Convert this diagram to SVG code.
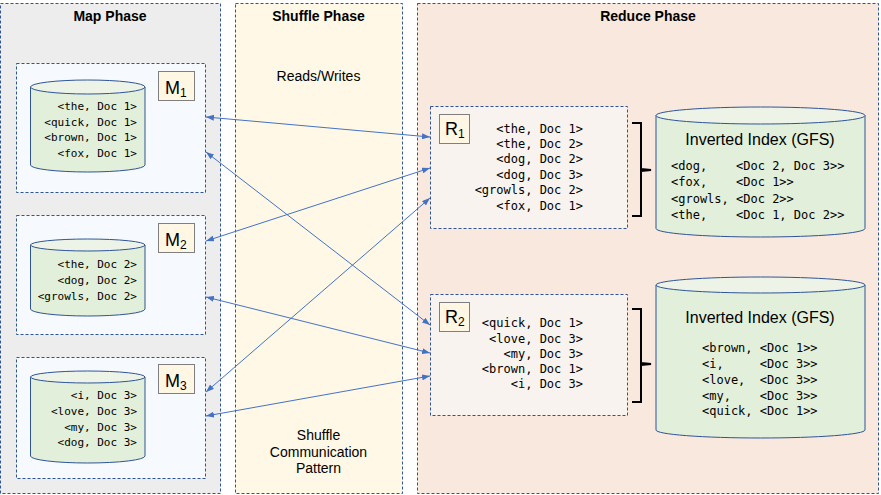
<svg xmlns="http://www.w3.org/2000/svg" width="881" height="495" viewBox="0 0 881 495">
<style>
.panel{stroke:#2F5597;stroke-width:1;stroke-dasharray:3,2}
.box{stroke:#2F5597;stroke-width:1;stroke-dasharray:3,2}
.title{font-family:"Liberation Sans",Arial,sans-serif;font-weight:bold;font-size:14px;text-anchor:middle;fill:#000}
.note{font-family:"Liberation Sans",Arial,sans-serif;font-size:14px;text-anchor:middle;fill:#000}
.lbl{fill:#FFF6E3;stroke:#7F7F7F;stroke-width:1}
.lbltxt{font-family:"Liberation Sans",Arial,sans-serif;font-size:18px;fill:#000}
.sub{font-size:12px}
.cyl{fill:#E2EFDA;stroke:#2F5597;stroke-width:1}
.cyltop{fill:#EDF4E7;stroke:#2F5597;stroke-width:1}
.mono11{font-family:"DejaVu Sans Mono",monospace;font-size:11px;fill:#000;text-anchor:end}
.mono12{font-family:"DejaVu Sans Mono",monospace;font-size:12px;fill:#000}
.r12{text-anchor:end}
.idx{font-family:"Liberation Sans",Arial,sans-serif;font-size:16px;text-anchor:middle;fill:#000}
.conn{stroke:#4472C4;stroke-width:1;fill:none;marker-start:url(#ah);marker-end:url(#ah)}
.brace{stroke:#000;stroke-width:2;fill:none}
</style>
<defs>
<marker id="ah" markerUnits="userSpaceOnUse" markerWidth="8" markerHeight="6" refX="8" refY="3" orient="auto-start-reverse">
<path d="M0,0 L8,3 L0,6 z" fill="#4472C4"/>
</marker>
</defs>

<g id="map-phase">
<rect class="panel" x="0.5" y="3.5" width="220" height="490" fill="#EDEDED"/>
<text class="title" x="110" y="21">Map Phase</text>
</g>
<g id="shuffle-phase">
<rect class="panel" x="235.5" y="3.5" width="167" height="490" fill="#FFF8E6"/>
<text class="title" x="318.5" y="21">Shuffle Phase</text>
<text class="note" x="318.5" y="81">Reads/Writes</text>
<text class="note" x="318.5" y="440">Shuffle</text>
<text class="note" x="318.5" y="457">Communication</text>
<text class="note" x="318.5" y="473">Pattern</text>
</g>
<g id="reduce-phase">
<rect class="panel" x="417.5" y="3.5" width="461" height="490" fill="#F8E8DD"/>
<text class="title" x="648" y="21">Reduce Phase</text>
</g>

<g id="M1">
<rect class="box" x="16.5" y="63.5" width="189" height="129" fill="#F6FAFE"/>
<path class="cyl" d="M30.5,87 L30.5,165 A57.25,7 0 0 0 145,165 L145,87 Z"/>
<ellipse class="cyltop" cx="87.75" cy="87" rx="57.25" ry="7"/>
<text class="mono11" x="137" y="110">&lt;the, Doc 1&gt;</text>
<text class="mono11" x="137" y="126">&lt;quick, Doc 1&gt;</text>
<text class="mono11" x="137" y="141">&lt;brown, Doc 1&gt;</text>
<text class="mono11" x="137" y="157">&lt;fox, Doc 1&gt;</text>
<rect class="lbl" x="158.5" y="71.5" width="36" height="29"/>
<text class="lbltxt" x="165" y="94">M<tspan class="sub" dy="3">1</tspan></text>
</g>

<g id="M2">
<rect class="box" x="16.5" y="215.5" width="189" height="119" fill="#F6FAFE"/>
<path class="cyl" d="M30.5,245 L30.5,309 A57.25,7 0 0 0 145,309 L145,245 Z"/>
<ellipse class="cyltop" cx="87.75" cy="245" rx="57.25" ry="6"/>
<text class="mono11" x="137" y="268">&lt;the, Doc 2&gt;</text>
<text class="mono11" x="137" y="284">&lt;dog, Doc 2&gt;</text>
<text class="mono11" x="137" y="300">&lt;growls, Doc 2&gt;</text>
<rect class="lbl" x="158.5" y="223.5" width="36" height="29"/>
<text class="lbltxt" x="165" y="246">M<tspan class="sub" dy="3">2</tspan></text>
</g>

<g id="M3">
<rect class="box" x="16.5" y="357.5" width="189" height="121" fill="#F6FAFE"/>
<path class="cyl" d="M30.5,377 L30.5,456 A57.25,7 0 0 0 145,456 L145,377 Z"/>
<ellipse class="cyltop" cx="87.75" cy="377" rx="57.25" ry="6"/>
<text class="mono11" x="137" y="399">&lt;i, Doc 3&gt;</text>
<text class="mono11" x="137" y="415">&lt;love, Doc 3&gt;</text>
<text class="mono11" x="137" y="431">&lt;my, Doc 3&gt;</text>
<text class="mono11" x="137" y="446">&lt;dog, Doc 3&gt;</text>
<rect class="lbl" x="158.5" y="364.5" width="36" height="29"/>
<text class="lbltxt" x="165" y="387">M<tspan class="sub" dy="3">3</tspan></text>
</g>

<g id="R1">
<rect class="box" x="430.5" y="106.5" width="197" height="122" fill="#F8F3EF"/>
<rect class="lbl" x="439.5" y="114.5" width="30" height="29"/>
<text class="lbltxt" x="445" y="135">R<tspan class="sub" dy="3">1</tspan></text>
<text class="mono12 r12" x="583" y="133">&lt;the, Doc 1&gt;</text>
<text class="mono12 r12" x="583" y="148">&lt;the, Doc 2&gt;</text>
<text class="mono12 r12" x="583" y="163">&lt;dog, Doc 2&gt;</text>
<text class="mono12 r12" x="583" y="179">&lt;dog, Doc 3&gt;</text>
<text class="mono12 r12" x="583" y="194">&lt;growls, Doc 2&gt;</text>
<text class="mono12 r12" x="583" y="210">&lt;fox, Doc 1&gt;</text>
</g>

<g id="R2">
<rect class="box" x="430.5" y="294.5" width="197" height="121" fill="#F8F3EF"/>
<rect class="lbl" x="439.5" y="302.5" width="30" height="29"/>
<text class="lbltxt" x="445" y="323">R<tspan class="sub" dy="3">2</tspan></text>
<text class="mono12 r12" x="583" y="327">&lt;quick, Doc 1&gt;</text>
<text class="mono12 r12" x="583" y="343">&lt;love, Doc 3&gt;</text>
<text class="mono12 r12" x="583" y="358">&lt;my, Doc 3&gt;</text>
<text class="mono12 r12" x="583" y="373">&lt;brown, Doc 1&gt;</text>
<text class="mono12 r12" x="583" y="388">&lt;i, Doc 3&gt;</text>
</g>

<g id="brace1">
<path class="brace" d="M632,123 L641,123 L641,169 L651,170 L641,171 L641,216 L632,216"/>
</g>
<g id="brace2">
<path class="brace" d="M632,309 L641,309 L641,363 L651,364 L641,365 L641,402 L632,402"/>
</g>

<g id="index1">
<path class="cyl" d="M656,115.5 L656,228.5 A104.5,8.5 0 0 0 865,228.5 L865,115.5 Z"/>
<ellipse class="cyltop" cx="760.5" cy="115.5" rx="104.5" ry="8.5"/>
<text class="idx" x="760" y="145">Inverted Index (GFS)</text>
<text class="mono12" x="671" y="170" xml:space="preserve">&lt;dog,    &lt;Doc 2, Doc 3&gt;&gt;</text>
<text class="mono12" x="671" y="186" xml:space="preserve">&lt;fox,    &lt;Doc 1&gt;&gt;</text>
<text class="mono12" x="671" y="203" xml:space="preserve">&lt;growls, &lt;Doc 2&gt;&gt;</text>
<text class="mono12" x="671" y="219" xml:space="preserve">&lt;the,    &lt;Doc 1, Doc 2&gt;&gt;</text>
</g>

<g id="index2">
<path class="cyl" d="M656,285 L656,430 A104.5,8 0 0 0 865,430 L865,285 Z"/>
<ellipse class="cyltop" cx="760.5" cy="285" rx="104.5" ry="8"/>
<text class="idx" x="760" y="323">Inverted Index (GFS)</text>
<text class="mono12" x="702" y="352" xml:space="preserve">&lt;brown, &lt;Doc 1&gt;&gt;</text>
<text class="mono12" x="702" y="368" xml:space="preserve">&lt;i,     &lt;Doc 3&gt;&gt;</text>
<text class="mono12" x="702" y="384" xml:space="preserve">&lt;love,  &lt;Doc 3&gt;&gt;</text>
<text class="mono12" x="702" y="400" xml:space="preserve">&lt;my,    &lt;Doc 3&gt;&gt;</text>
<text class="mono12" x="702" y="415" xml:space="preserve">&lt;quick, &lt;Doc 1&gt;&gt;</text>
</g>

<g id="connectors">
<line class="conn" x1="206" y1="117" x2="430" y2="137"/>
<line class="conn" x1="206" y1="152" x2="430" y2="325"/>
<line class="conn" x1="206" y1="241" x2="430" y2="168"/>
<line class="conn" x1="206" y1="297" x2="430" y2="353"/>
<line class="conn" x1="206" y1="392" x2="430" y2="198"/>
<line class="conn" x1="206" y1="416" x2="430" y2="376"/>
</g>
</svg>
